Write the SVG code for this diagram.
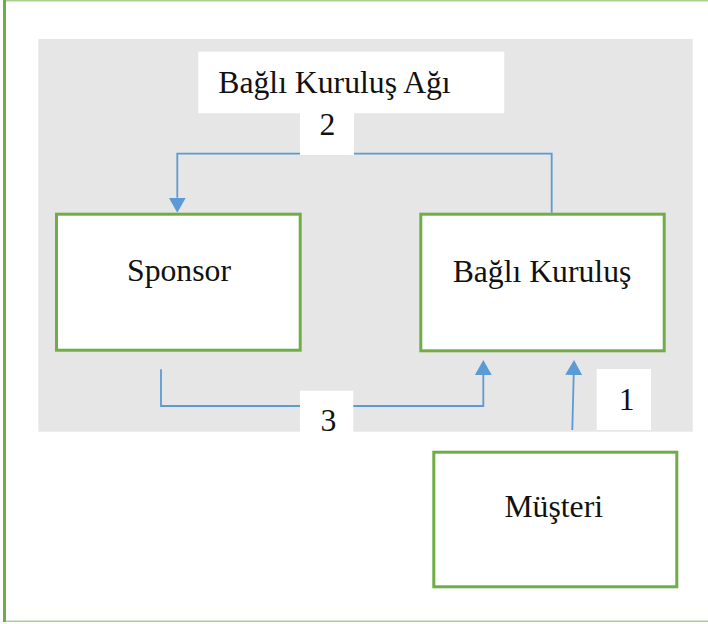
<svg xmlns="http://www.w3.org/2000/svg" width="708" height="624" viewBox="0 0 708 624">
  <style>
    .frame-left { stroke: #70AD47; stroke-width: 3; }
    .frame-edge { stroke: #A9D18E; stroke-width: 1.6; }
    .node { fill: #FFFFFF; stroke: #70AD47; stroke-width: 3; }
    .label-box { fill: #FFFFFF; stroke: none; }
    .txt { font-family: "Liberation Serif", "Times New Roman", serif; font-size: 31.7px; fill: #111111; }
    .conn { fill: none; stroke: #5B9BD5; stroke-width: 1.8; }
  </style>
  <defs>
    <marker id="arrow" viewBox="0 0 15 17" refX="0" refY="8.5" markerWidth="15" markerHeight="17" markerUnits="userSpaceOnUse" orient="auto">
      <path d="M0,0 L15,8.5 L0,17 z" fill="#5B9BD5"/>
    </marker>
  </defs>

  <rect x="0" y="0" width="708" height="624" fill="#FFFFFF"/>
  <g id="frame">
    <line class="frame-edge" x1="3" y1="0.8" x2="708" y2="0.8"/>
    <line class="frame-edge" x1="3" y1="621.2" x2="708" y2="621.2"/>
    <line class="frame-left" x1="4.5" y1="0" x2="4.5" y2="622"/>
  </g>

  <rect id="background" x="38.3" y="39" width="654.4" height="392.7" fill="#E7E6E6"/>

  <g id="title">
    <rect class="label-box" x="198.3" y="51.7" width="306" height="61.5"/>
    <text class="txt" x="218.3" y="93.3">Bağlı Kuruluş Ağı</text>
  </g>

  <g id="connectors">
    <path id="conn-2" class="conn" d="M551.7,212.7 V153.7 H177.3 V197.7" marker-end="url(#arrow)"/>
    <path id="conn-3" class="conn" d="M161,369.3 V406 H483.3 V375" marker-end="url(#arrow)"/>
    <path id="conn-1" class="conn" d="M572.3,430 L573.7,375" marker-end="url(#arrow)"/>
  </g>

  <g id="label-2">
    <rect class="label-box" x="300" y="112.7" width="54" height="42.3"/>
    <text class="txt" x="327.3" y="135" text-anchor="middle">2</text>
  </g>
  <g id="label-3">
    <rect class="label-box" x="300" y="390.7" width="53.3" height="41.5"/>
    <text class="txt" x="328.5" y="431" text-anchor="middle">3</text>
  </g>
  <g id="label-1">
    <rect class="label-box" x="596.7" y="369" width="54.3" height="61"/>
    <text class="txt" x="626.7" y="410" text-anchor="middle">1</text>
  </g>

  <g id="sponsor">
    <rect class="node" x="56.5" y="214.2" width="243.7" height="136"/>
    <text class="txt" x="179" y="281" text-anchor="middle">Sponsor</text>
  </g>
  <g id="bagli-kurulus">
    <rect class="node" x="420.8" y="214.2" width="243.4" height="136.6"/>
    <text class="txt" x="542" y="281.7" text-anchor="middle">Bağlı Kuruluş</text>
  </g>
  <g id="musteri">
    <rect class="node" x="433.8" y="452.2" width="243" height="134.6"/>
    <text class="txt" x="553.7" y="517.3" text-anchor="middle">Müşteri</text>
  </g>
</svg>
